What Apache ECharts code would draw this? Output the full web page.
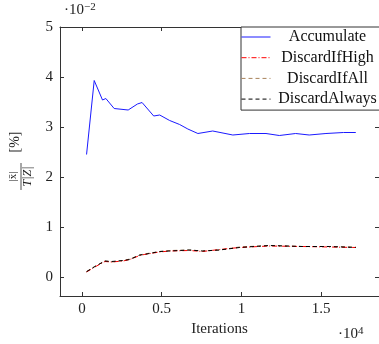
<!DOCTYPE html>
<html>
<head>
<meta charset="utf-8">
<script src="https://cdn.jsdelivr.net/npm/echarts@6/dist/echarts.min.js"></script>
<style>
html,body{margin:0;padding:0;background:#fff;}
#main{width:379px;height:344px;}
</style>
</head>
<body>
<div id="main"></div>
<script>
// Iterations (raw count) and values in units of 10^-2 %
var seriesNames = ['Accumulate', 'DiscardIfHigh', 'DiscardIfAll', 'DiscardAlways'];
var accIter = [290, 770, 1290, 1500, 2020, 2900, 3480, 3770, 4500, 4875, 5500, 6125, 6640, 7270, 8200, 9460, 10500, 11540, 12375, 13400, 14250, 15300, 16400, 17170];
var accumulate = [2.45, 3.93, 3.54, 3.57, 3.37, 3.34, 3.46, 3.49, 3.22, 3.24, 3.13, 3.05, 2.96, 2.87, 2.92, 2.84, 2.87, 2.87, 2.83, 2.87, 2.84, 2.87, 2.89, 2.89];
var lowIter = [290, 810, 1440, 1860, 2580, 3000, 3625, 3900, 4875, 5500, 6750, 7560, 8625, 9875, 11750, 13800, 15500, 17170];
var discardIfHigh = [0.10, 0.20, 0.31, 0.30, 0.32, 0.35, 0.43, 0.45, 0.50, 0.52, 0.53, 0.51, 0.55, 0.59, 0.62, 0.61, 0.60, 0.59];
var discardIfAll = [0.11, 0.21, 0.32, 0.30, 0.33, 0.36, 0.44, 0.46, 0.51, 0.53, 0.54, 0.52, 0.54, 0.60, 0.63, 0.61, 0.61, 0.60];
var discardAlways = [0.107, 0.21, 0.32, 0.31, 0.33, 0.35, 0.44, 0.45, 0.51, 0.52, 0.54, 0.52, 0.54, 0.59, 0.63, 0.61, 0.61, 0.59];
var xTicks = [0, 5000, 10000, 15000];
var xTickLabels = ['0', '0.5', '1', '1.5'];
var yTicks = [0, 1, 2, 3, 4, 5];
var yTickLabels = ['0', '1', '2', '3', '4', '5'];

function pairs(xs, ys) { return xs.map(function (x, i) { return [x, ys[i]]; }); }

var FONT = 'Liberation Serif';
var AX = '#333';
var chart = echarts.init(document.getElementById('main'), null, {renderer: 'canvas'});

function xAxisDef(pos, showLabel) {
  return {
    type: 'value', position: pos, min: -1375, max: 18625,
    axisLine: {show: true, onZero: false, lineStyle: {color: AX, width: 1}},
    axisTick: {show: true, inside: true, length: 4, customValues: xTicks, lineStyle: {color: AX}},
    axisLabel: {show: showLabel, customValues: xTicks, margin: 6, fontFamily: FONT, fontSize: 15, color: '#222',
      formatter: function (v) { return xTickLabels[xTicks.indexOf(v)]; }},
    splitLine: {show: false},
    name: showLabel ? 'Iterations' : '', nameLocation: 'middle', nameGap: 25,
    nameTextStyle: {fontFamily: FONT, fontSize: 15, color: '#222'}
  };
}
function yAxisDef(pos, showLabel) {
  return {
    type: 'value', position: pos, min: -0.38, max: 5,
    axisLine: {show: true, onZero: false, lineStyle: {color: AX, width: 1}},
    axisTick: {show: true, inside: true, length: 4, customValues: yTicks, lineStyle: {color: AX}},
    axisLabel: {show: showLabel, customValues: yTicks, margin: 7, fontFamily: FONT, fontSize: 15, color: '#222',
      formatter: function (v) { return yTickLabels[yTicks.indexOf(v)]; }},
    splitLine: {show: false}
  };
}

var option = {
  backgroundColor: '#fff',
  animation: false,
  grid: {left: 60, top: 27, right: -1, bottom: 48, containLabel: false},
  xAxis: [xAxisDef('bottom', true), xAxisDef('top', false)],
  yAxis: [yAxisDef('left', true), yAxisDef('right', false)],
  legend: {
    orient: 'vertical', left: 241, top: 27,
    data: seriesNames,
    itemWidth: 29, itemHeight: 10, itemGap: 0.7,
    itemStyle: {opacity: 0, borderWidth: 0},
    lineStyle: {width: 1},
    padding: [0, 12, 1, 0],
    backgroundColor: '#fff', borderColor: AX, borderWidth: 1, borderRadius: 0,
    selectedMode: false,
    formatter: '{c|{name}}',
    textStyle: {fontFamily: FONT, fontSize: 16, color: '#111', lineHeight: 20,
      rich: {c: {width: 104, align: 'center', fontFamily: FONT, fontSize: 16, lineHeight: 20}}}
  },
  series: [
    {name: seriesNames[0], type: 'line', data: pairs(accIter, accumulate), symbol: 'none', showSymbol: false,
      lineStyle: {color: '#1a1aff', width: 1}, itemStyle: {color: '#1a1aff'}, z: 5},
    {name: seriesNames[1], type: 'line', data: pairs(lowIter, discardIfHigh), symbol: 'none', showSymbol: false,
      lineStyle: {color: '#ff0000', width: 1, type: [5, 2, 1, 2]}, itemStyle: {color: '#ff0000'}, z: 4},
    {name: seriesNames[2], type: 'line', data: pairs(lowIter, discardIfAll), symbol: 'none', showSymbol: false,
      lineStyle: {color: '#a8825a', width: 1, type: [4, 3]}, itemStyle: {color: '#a8825a'}, z: 3},
    {name: seriesNames[3], type: 'line', data: pairs(lowIter, discardAlways), symbol: 'none', showSymbol: false,
      lineStyle: {color: '#000000', width: 1, type: [4, 3]}, itemStyle: {color: '#000000'}, z: 6}
  ],
  graphic: [
    {type: 'text', left: 64, top: 2, style: {text: '·10{s|−2}', fontFamily: FONT, fontSize: 15, fill: '#222',
      rich: {s: {fontFamily: FONT, fontSize: 11, verticalAlign: 'top', padding: [0, 0, 6, 0]}}}},
    {type: 'text', left: 338, top: 326, style: {text: '·10{s|4}', fontFamily: FONT, fontSize: 15, fill: '#222',
      rich: {s: {fontFamily: FONT, fontSize: 11, padding: [0, 0, 6, 0]}}}},
    {type: 'group', x: 21, y: 161, rotation: Math.PI / 2, children: [
      {type: 'text', x: -15.5, y: -8, style: {text: '|x̄|', fontFamily: FONT, fontSize: 11, fill: '#222', align: 'center', verticalAlign: 'middle'}},
      {type: 'line', shape: {x1: -29, y1: 0, x2: -2, y2: 0}, style: {stroke: '#222', lineWidth: 0.8}},
      {type: 'text', x: -15.5, y: 6.5, style: {text: 'T|Z|', fontFamily: FONT, fontStyle: 'italic', fontSize: 12, fill: '#222', align: 'center', verticalAlign: 'middle'}},
      {type: 'text', x: 19, y: -5.5, style: {text: '[%]', fontFamily: FONT, fontSize: 14, fill: '#222', align: 'center', verticalAlign: 'middle'}}
    ]}
  ]
};
chart.setOption(option);
</script>
</body>
</html>
